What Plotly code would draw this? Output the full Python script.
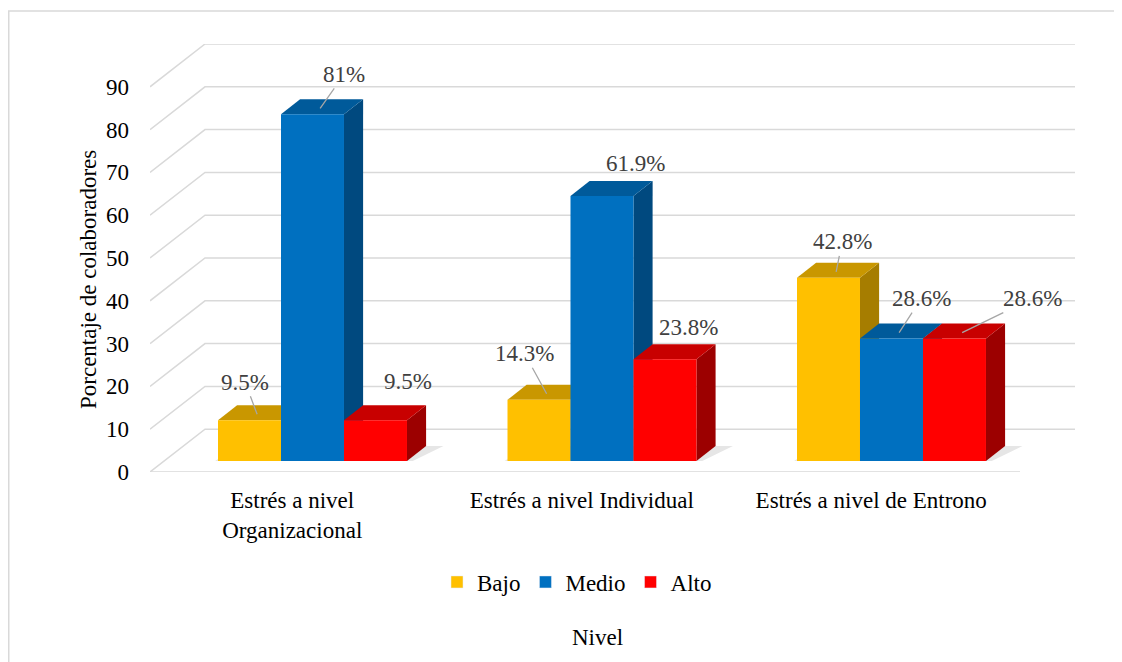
import plotly.graph_objects as go

# ---------------- data ----------------
CATEGORIES = ["Estrés a nivel<br>Organizacional", "Estrés a nivel Individual", "Estrés a nivel de Entrono"]
SERIES = ["Bajo", "Medio", "Alto"]
BAJO = [9.5, 14.3, 42.8]
MEDIO = [81, 61.9, 28.6]
ALTO = [9.5, 23.8, 28.6]
LABELS_BAJO = ["9.5%", "14.3%", "42.8%"]
LABELS_MEDIO = ["81%", "61.9%", "28.6%"]
LABELS_ALTO = ["9.5%", "23.8%", "28.6%"]
Y_TICKS = [0, 10, 20, 30, 40, 50, 60, 70, 80, 90]
Y_AXIS_TITLE = "Porcentaje de colaboradores"
X_AXIS_TITLE = "Nivel"

VALUES = [BAJO, MEDIO, ALTO]
LABELS = [LABELS_BAJO, LABELS_MEDIO, LABELS_ALTO]

# ---------------- styles ----------------
FRONT = ["#FFC000", "#0070C0", "#FF0000"]
TOP = ["#C99700", "#005A9A", "#C80000"]
SIDE = ["#A67D00", "#00497F", "#9C0000"]
FONT = "Liberation Serif"
GRID = "#D9D9D9"

# page offset compensation (browser body margin)
OFF = 8
ML, MT = 150 - OFF, 44 - OFF
PW, PH = 925, 428

def px_x(p):  # screen pixel -> paper x
    return (p - OFF - ML) / PW

def px_y(p):  # screen pixel -> paper y
    return (MT + PH - (p - OFF)) / PH

# 3-D geometry (in axis units)
W = 0.2176          # bar width
Z0 = 2.57           # vertical offset of bar front face (depth)
DXB, DYB = 0.066, 3.5   # bar depth offsets
DX, DY = 0.19, 10.0     # wall depth offsets
X0, X1 = -0.5613, 2.6339
YMAX = 100
LABEL_SHIFT = -0.07

# label offsets (pixels) relative to anchor on bar top, and whether a leader line is shown
LABEL_OFF = [
    [(-12, -32, True), (-22, -40, True), (6, -30, True)],     # Bajo
    [(24, -34, True), (26, -27, False), (22, -34, True)],     # Medio
    [(25, -33, False), (16, -26, False), (70, -34, True)],    # Alto
]

fig = go.Figure()

def poly(xs, ys, color):
    fig.add_trace(go.Scatter(x=xs + [xs[0]], y=ys + [ys[0]], mode="lines", fill="toself",
                             fillcolor=color, line=dict(width=0, color=color),
                             hoverinfo="skip", showlegend=False))

def line(xs, ys, color=GRID, width=1.5):
    fig.add_trace(go.Scatter(x=xs, y=ys, mode="lines", line=dict(color=color, width=width),
                             hoverinfo="skip", showlegend=False))

# walls / gridlines
for t in Y_TICKS:
    line([X0, X0 + DX, X1], [t, t + DY, t + DY])
line([X0, X1 - DX], [0, 0])

# floor shadows
for i in range(len(CATEGORIES)):
    xl = i - 1.5 * W
    xr = i + 1.5 * W
    poly([xl - 0.01, xr + 0.02, xr + DXB + 0.06, xl + DXB], [Z0, Z0, Z0 + DYB, Z0 + DYB], "#E6E6E6")

annotations = []
for i in range(len(CATEGORIES)):
    for k in range(len(SERIES)):
        v = VALUES[k][i]
        xc = i + (k - 1) * W
        xl, xr = xc - W / 2, xc + W / 2
        h = Z0 + v
        # side face
        poly([xr, xr + DXB, xr + DXB, xr], [Z0, Z0 + DYB, h + DYB, h], SIDE[k])
        # top face
        poly([xl, xr, xr + DXB, xl + DXB], [h, h, h + DYB, h + DYB], TOP[k])
        # front face
        poly([xl, xr, xr, xl], [Z0, Z0, h, h], FRONT[k])
        ax, ay, leader = LABEL_OFF[k][i]
        ann = dict(x=xc + DXB * 0.4, y=h + DYB * 0.4, xref="x", yref="y", text=LABELS[k][i],
                   font=dict(family=FONT, size=23, color="#404040"))
        if leader:
            ann.update(showarrow=True, ax=ax, ay=ay, arrowhead=0, arrowwidth=1.3,
                       arrowcolor="#A6A6A6", standoff=0)
        else:
            ann.update(showarrow=False, xshift=ax, yshift=-ay)
        annotations.append(ann)

# legend-only traces
for k, name in enumerate(SERIES):
    fig.add_trace(go.Bar(x=[None], y=[None], name=name, marker=dict(color=FRONT[k]),
                         showlegend=True))

annotations.append(dict(x=px_x(88), y=px_y(280), xref="paper", yref="paper",
                        xanchor="center", yanchor="middle",
                        text=Y_AXIS_TITLE, textangle=-90, showarrow=False,
                        font=dict(family=FONT, size=23, color="#000000")))
annotations.append(dict(x=px_x(597), y=px_y(637), xref="paper", yref="paper",
                        xanchor="center", yanchor="middle",
                        text=X_AXIS_TITLE, showarrow=False,
                        font=dict(family=FONT, size=23, color="#000000")))

fig.update_layout(
    width=1122, height=662,
    margin=dict(l=ML, r=1122 - ML - PW, t=MT, b=662 - MT - PH),
    paper_bgcolor="white", plot_bgcolor="white",
    font=dict(family=FONT, size=23, color="#000000"),
    showlegend=True,
    legend=dict(orientation="h", x=px_x(577), xanchor="center",
                y=px_y(582), yanchor="middle", itemwidth=30,
                font=dict(family=FONT, size=23, color="#000000")),
    xaxis=dict(range=[X0, X1], showgrid=False, zeroline=False, showline=False,
               tickvals=[i + LABEL_SHIFT for i in range(len(CATEGORIES))], ticktext=CATEGORIES,
               ticks="", ticklabelstandoff=12, tickfont=dict(family=FONT, size=23, color="#000000"),
               fixedrange=True),
    yaxis=dict(range=[0, YMAX], showgrid=False, zeroline=False, showline=False,
               tickvals=Y_TICKS, ticks="", ticklabelstandoff=20,
               tickfont=dict(family=FONT, size=23, color="#000000"), fixedrange=True),
    annotations=annotations,
    shapes=[dict(type="path", xref="paper", yref="paper",
                 path=f"M {px_x(8.75)} {px_y(662)} L {px_x(8.75)} {px_y(11)} L {px_x(1130)} {px_y(11)}",
                 line=dict(color="#D9D9D9", width=1.5))],
)

fig.write_html("out.html")
